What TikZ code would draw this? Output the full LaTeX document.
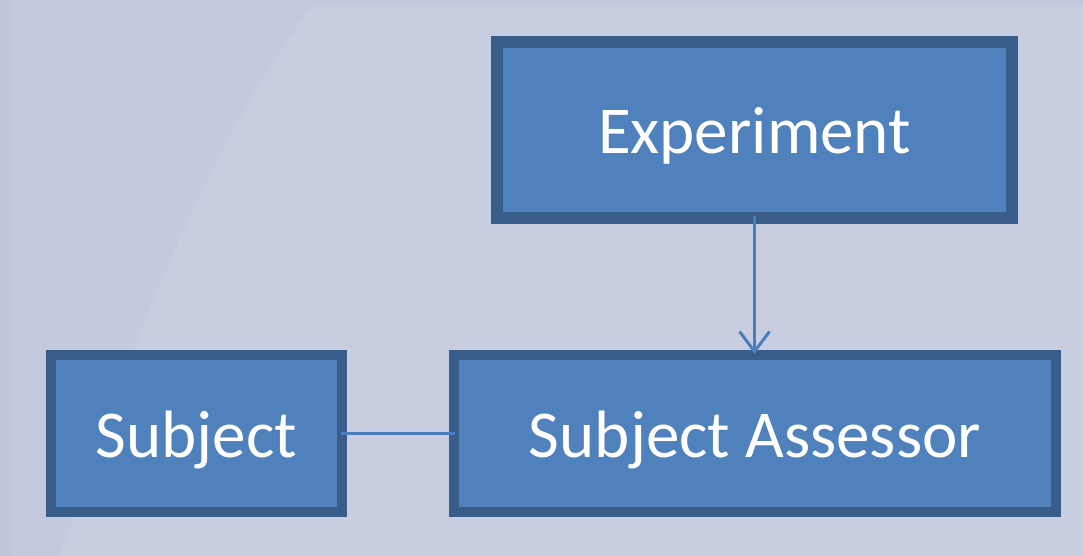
\documentclass[tikz,border=0pt]{standalone}
\usepackage{fontspec}
\setmainfont{Carlito}
\usetikzlibrary{arrows.meta}
\definecolor{bg}{HTML}{C4C9DD}
\definecolor{bglight}{HTML}{C8CDE0}
\definecolor{boxfill}{HTML}{4F81BD}
\definecolor{boxline}{HTML}{385D8A}
\definecolor{conn}{HTML}{4A7EBF}
\begin{document}
\begin{tikzpicture}[x=1pt,y=-1pt,
  box/.style={draw=boxline, fill=boxfill, text=white, font=\fontsize{67}{75}\selectfont, inner sep=0pt, text height=48pt, text depth=0pt, anchor=north west},
  conn/.style={draw=conn, line width=3pt}]
\useasboundingbox (0,0) rectangle (1083,556);
\fill[bg] (0,0) rectangle (1083,556);
\fill[bglight] (313,6) .. controls (200,150) and (120,380) .. (60,556) -- (1083,556) -- (1083,6) -- cycle;
\fill[bg!96!black, opacity=0.3] (0,0) rectangle (10,556);
\node[box, line width=12pt, minimum width=515pt, minimum height=176pt] (exp) at (491,36) {Experiment};
\node[box, line width=10pt, minimum width=602pt, minimum height=157pt] (sa) at (449,350) {Subject Assessor};
\node[box, line width=10pt, minimum width=291pt, minimum height=157pt] (subj) at (46,350) {Subject};
\draw[conn, -{Straight Barb[length=20pt,width=30pt,line width=3pt]}, shorten <=-8pt, shorten >=-4pt] (exp.south) -- (sa.north -| exp.south);
\draw[conn, shorten <=-6pt, shorten >=-6pt] (subj.east) -- (sa.west);
\end{tikzpicture}
\end{document}
